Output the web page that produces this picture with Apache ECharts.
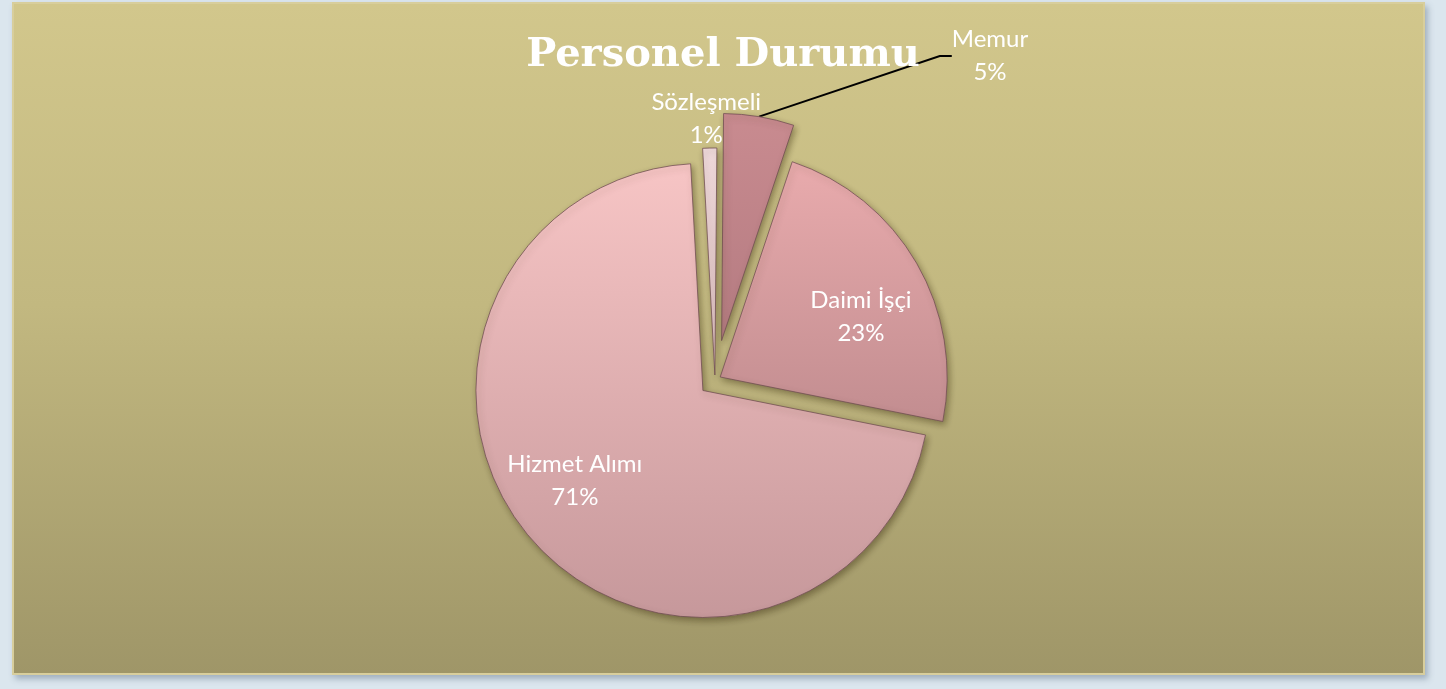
<!DOCTYPE html>
<html>
<head>
<meta charset="utf-8">
<script src="https://cdn.jsdelivr.net/npm/echarts@6/dist/echarts.min.js"></script>
<style>
  html, body { margin: 0; padding: 0; width: 1446px; height: 689px; background: #dbe6ee; overflow: hidden; }
  #frame { position: absolute; left: 12px; top: 2px; width: 1409px; height: 669px;
    background: linear-gradient(to bottom, #d2c78c 0%, #c2b880 45%, #9f9668 100%);
    border: 2px solid #d8ce9c; box-shadow: 3px 4px 6px rgba(90,110,130,0.45); }
  #chart { position: absolute; left: 0; top: 0; width: 1446px; height: 689px; }
</style>
</head>
<body>
<div id="frame"></div>
<div id="chart"></div>
<script>
// ---- data ----
const categories = ['Memur', 'Daimi İşçi', 'Hizmet Alımı', 'Sözleşmeli'];
const values = [5, 23, 71, 1];
const titleText = 'Personel Durumu';

// ---- styling ----
const sliceColors = [
  ['#c98b90', '#b47b81'],
  ['#e9abad', '#c28d90'],
  ['#f7c5c5', '#c6989b'],
  ['#f0dadc', '#dcbcbf']
];
const explode = [40, 6, 16, 5];
const labelMoves = [
  { x: 990, y: 56, align: 'center', verticalAlign: 'middle' },
  { dx: 40, dy: -2 },
  { dx: -40, dy: 14 },
  { dx: -6, dy: -140 }
];
const pieCenter = [715, 380];
const startAngle = 89.5;

const chart = echarts.init(document.getElementById('chart'), null, { renderer: 'canvas' });

const total = values.reduce((a, b) => a + b, 0);
let cum = 0;
const series = categories.map((cat, i) => {
  const midDeg = (90 - startAngle) + (cum + values[i] / 2) / total * 360;
  cum += values[i];
  const rad = midDeg * Math.PI / 180;
  const c = [pieCenter[0] + explode[i] * Math.sin(rad), pieCenter[1] - explode[i] * Math.cos(rad)];
  return {
    type: 'pie',
    center: c,
    radius: 227,
    startAngle: startAngle,
    clockwise: true,
    silent: true,
    animation: false,
    avoidLabelOverlap: false,
    percentPrecision: 0,
    emphasis: { disabled: true },
    label: {
      show: true,
      position: i === 0 ? 'outside' : 'inside',
      formatter: '{b}\n{d}%',
      color: '#ffffff',
      fontFamily: 'Lato',
      fontSize: 24,
      lineHeight: 33,
      align: 'center'
    },
    labelLine: { show: i === 0, length: 20, length2: 12, lineStyle: { color: '#000000', width: 2 } },
    labelLayout: labelMoves[i],
    data: categories.map((n, j) => {
      const on = j === i;
      return {
        name: n,
        value: values[j],
        itemStyle: on ? {
          color: new echarts.graphic.LinearGradient(0, 0, 0, 1, [
            { offset: 0, color: sliceColors[i][0] },
            { offset: 1, color: sliceColors[i][1] }
          ]),
          borderColor: 'rgba(110,75,80,0.75)',
          borderWidth: 1,
          shadowBlur: 6,
          shadowOffsetX: 2,
          shadowOffsetY: 3,
          shadowColor: 'rgba(60,50,20,0.45)'
        } : { color: 'rgba(0,0,0,0)', borderWidth: 0, shadowBlur: 0 },
        label: { show: on },
        labelLine: { show: on && i === 0 }
      };
    })
  };
});

chart.setOption({
  backgroundColor: 'transparent',
  title: {
    text: titleText,
    left: 718,
    top: 31,
    textAlign: 'center',
    textStyle: { color: '#ffffff', fontFamily: 'DejaVu Serif', fontWeight: 'bold', fontSize: 40 }
  },
  series: series
});
</script>
</body>
</html>
